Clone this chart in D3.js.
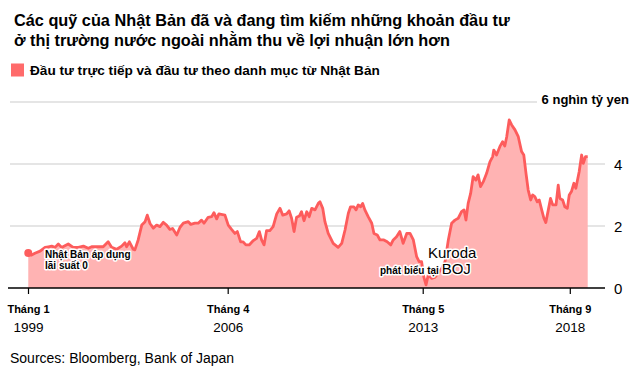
<!DOCTYPE html>
<html>
<head>
<meta charset="utf-8">
<script src="https://cdnjs.cloudflare.com/ajax/libs/d3/7.8.5/d3.min.js"></script>
<style>
  body { margin: 0; background: #fff; }
  svg { display: block; font-family: "Liberation Sans", Arial, sans-serif; }
</style>
</head>
<body>
<svg id="chart" width="640" height="368"></svg>
<script>
// ---------- data ---------- //

const years = [
  1999.01,1999.13,1999.25,1999.44,1999.62,1999.74,1999.86,1999.98,2000.10,2000.22,
  2000.46,2000.64,2000.83,2001.01,2001.19,2001.31,2001.47,2001.73,2001.91,2002.04,
  2002.22,2002.40,2002.52,2002.58,2002.68,2002.82,2002.88,2003.00,2003.13,2003.25,
  2003.33,2003.43,2003.55,2003.67,2003.79,2003.91,2004.03,2004.15,2004.25,2004.40,
  2004.52,2004.64,2004.82,2004.91,2005.06,2005.18,2005.30,2005.39,2005.54,2005.67,
  2005.75,2005.85,2005.93,2006.15,2006.27,2006.39,2006.51,2006.60,2006.72,2006.81,
  2006.91,2007.03,2007.18,2007.30,2007.40,2007.48,2007.57,2007.66,2007.78,2007.90,
  2008.03,2008.15,2008.25,2008.39,2008.48,2008.57,2008.66,2008.75,2008.85,2008.93,
  2009.02,2009.12,2009.21,2009.30,2009.42,2009.54,2009.60,2009.70,2009.78,2009.90,
  2010.08,2010.26,2010.39,2010.51,2010.63,2010.71,2010.83,2010.91,2010.99,2011.08,
  2011.15,2011.23,2011.35,2011.48,2011.56,2011.68,2011.78,2011.92,2012.04,2012.17,
  2012.26,2012.38,2012.50,2012.62,2012.75,2012.87,2012.99,2013.11,2013.20,2013.29,
  2013.37,2013.45,2013.53,2013.65,2013.77,2013.89,2014.02,2014.14,2014.26,2014.38,
  2014.50,2014.62,2014.74,2014.83,2014.90,2014.98,2015.07,2015.16,2015.26,2015.34,
  2015.43,2015.53,2015.65,2015.77,2015.87,2015.91,2016.01,2016.13,2016.23,2016.31,
  2016.38,2016.47,2016.56,2016.68,2016.80,2016.92,2017.00,2017.08,2017.16,2017.25,
  2017.32,2017.40,2017.49,2017.56,2017.65,2017.73,2017.80,2017.89,2017.97,2018.05,
  2018.17,2018.25,2018.31,2018.41,2018.49,2018.58,2018.65,2018.73,2018.82,2018.89,
  2019.01,2019.10,2019.16,2019.24,2019.32
];

// nghìn tỷ yen
const investment = [
  1.13,1.06,1.12,1.19,1.31,1.33,1.35,1.31,1.42,1.31,
  1.42,1.31,1.31,1.35,1.28,1.33,1.33,1.33,1.49,1.31,
  1.25,1.35,1.46,1.33,1.49,1.25,1.23,1.55,2.03,2.14,
  2.35,2.08,1.93,2.03,1.98,2.12,2.03,1.89,1.92,1.71,
  1.96,2.09,2.14,2.05,2.09,2.09,2.19,2.09,2.28,2.30,
  2.43,2.23,2.39,2.35,2.03,1.89,1.76,1.82,1.49,1.49,
  1.39,1.39,1.53,1.60,1.82,1.55,1.39,1.85,1.85,1.98,
  2.39,2.57,2.35,2.39,2.49,2.25,1.82,2.28,2.32,2.46,
  2.17,2.46,2.30,2.57,2.52,2.73,2.78,2.57,2.14,1.76,
  1.44,1.31,1.44,1.87,2.41,2.62,2.62,2.52,2.68,2.62,
  2.73,2.52,2.30,2.09,1.76,1.71,1.55,1.55,1.49,1.39,
  1.55,1.65,1.82,1.44,1.76,1.76,1.55,1.01,0.85,0.85,
  0.36,0.10,0.42,0.31,0.34,0.47,0.63,0.85,1.55,2.09,
  2.19,2.25,2.46,2.52,2.19,2.73,3.05,3.59,3.48,3.65,
  3.27,3.43,3.70,4.07,4.24,4.45,4.29,4.56,4.72,4.58,
  4.88,5.42,5.26,5.10,4.88,4.40,4.29,3.70,3.16,2.84,
  3.00,2.95,2.78,2.84,2.52,2.25,2.11,2.52,2.89,2.68,
  2.68,3.32,2.89,2.84,2.62,2.57,3.00,3.11,3.38,3.22,
  3.75,4.29,4.02,4.24,4.24
];

const tickYears = [1999.0, 2006.25, 2013.33, 2018.67];
const tickMonths = ["Tháng 1", "Tháng 4", "Tháng 5", "Tháng 9"];
const tickYearLabels = ["1999", "2006", "2013", "2018"];
const yTicks = [0, 2, 4, 6];

const titleLines = [
  "Các quỹ của Nhật Bản đã và đang tìm kiếm những khoản đầu tư",
  "ở thị trường nước ngoài nhằm thu về lợi nhuận lớn hơn"
];
const legendLabel = "Đầu tư trực tiếp và đầu tư theo danh mục từ Nhật Bản";
const unitLabel = "6 nghìn tỷ yen";
const source = "Sources: Bloomberg, Bank of Japan";

const data = years.map((y, i) => ({ year: y, value: investment[i] }));

// ---------- chart ---------- //

const lineColor = "#fd5c5c";
const areaColor = "#ffb3b3";

const svg = d3.select("#chart");

const x = d3.scaleLinear()
    .domain([1999, d3.max(years)])
    .range([28, 587.7]);

const y = d3.scaleLinear()
    .domain([0, 6])
    .range([288, 102]);

// title
svg.append("g")
    .selectAll("text")
    .data(titleLines)
    .join("text")
    .attr("x", 14)
    .attr("y", (d, i) => 26 + i * 19.5)
    .attr("font-size", "16.3px")
    .attr("font-weight", "bold")
    .attr("fill", "#000")
    .text(d => d);

// legend
svg.append("rect")
    .attr("x", 11)
    .attr("y", 63.5)
    .attr("width", 13)
    .attr("height", 13)
    .attr("fill", "#ff6b6b");

svg.append("text")
    .attr("x", 30)
    .attr("y", 75)
    .attr("font-size", "13.6px")
    .attr("font-weight", "bold")
    .text(legendLabel);

// gridlines
svg.append("g")
    .selectAll("line")
    .data(yTicks.filter(d => d > 0))
    .join("line")
    .attr("x1", 10)
    .attr("x2", d => d === 6 ? 537 : 605)
    .attr("y1", d => y(d))
    .attr("y2", d => y(d))
    .attr("stroke", "#dcdcdc")
    .attr("stroke-width", 1.5);

// right axis labels
svg.append("g")
    .selectAll("text")
    .data(yTicks.filter(d => d < 6))
    .join("text")
    .attr("x", 614)
    .attr("y", d => y(d) + 5.5)
    .attr("font-size", "15px")
    .text(d => d);

svg.append("text")
    .attr("x", 629)
    .attr("y", y(6) + 2)
    .attr("text-anchor", "end")
    .attr("font-size", "13px")
    .attr("font-weight", "bold")
    .text(unitLabel);

// area + line
const area = d3.area()
    .x(d => x(d.year))
    .y0(y(0))
    .y1(d => y(d.value));

const line = d3.line()
    .x(d => x(d.year))
    .y(d => y(d.value));

svg.append("path")
    .datum(data)
    .attr("d", area)
    .attr("fill", areaColor);

svg.append("path")
    .datum(data)
    .attr("d", line)
    .attr("fill", "none")
    .attr("stroke", lineColor)
    .attr("stroke-width", 2.8)
    .attr("stroke-linejoin", "round");

svg.append("circle")
    .attr("cx", x(data[0].year))
    .attr("cy", y(data[0].value))
    .attr("r", 4)
    .attr("fill", lineColor);

// bottom axis
const xAxis = d3.axisBottom(x)
    .tickValues(tickYears)
    .tickSize(6)
    .tickFormat("");

const axisG = svg.append("g")
    .attr("transform", "translate(0," + y(0) + ")")
    .call(xAxis);

axisG.select(".domain")
    .attr("d", "M8,0H605")
    .attr("stroke", "#000")
    .attr("stroke-width", 1.5);

axisG.selectAll(".tick line")
    .attr("stroke", "#000")
    .attr("stroke-width", 1.2);

axisG.selectAll(".tick")
    .append("text")
    .attr("y", 25)
    .attr("fill", "#000")
    .attr("font-size", "11px")
    .attr("font-weight", "bold")
    .attr("font-family", "Liberation Sans, Arial, sans-serif")
    .attr("text-anchor", "middle")
    .text((d, i) => tickMonths[i]);

axisG.selectAll(".tick")
    .append("text")
    .attr("y", 44)
    .attr("fill", "#000")
    .attr("font-size", "13.5px")
    .attr("font-family", "Liberation Sans, Arial, sans-serif")
    .attr("text-anchor", "middle")
    .text((d, i) => tickYearLabels[i]);

// annotations with white halo
function halo(sel){
    sel.attr("stroke", "#fff")
        .attr("stroke-width", 3)
        .attr("stroke-linejoin", "round")
        .attr("paint-order", "stroke")
        .attr("fill", "#000");
}

svg.append("text")
    .attr("x", 45)
    .attr("y", 258)
    .attr("font-size", "10px")
    .attr("font-weight", "bold")
    .call(halo)
    .text("Nhật Bản áp dụng");

svg.append("text")
    .attr("x", 45)
    .attr("y", 269)
    .attr("font-size", "10px")
    .attr("font-weight", "bold")
    .call(halo)
    .text("lãi suất 0");

svg.append("text")
    .attr("x", 428)
    .attr("y", 258)
    .attr("font-size", "15px")
    .call(halo)
    .text("Kuroda");

const boj = svg.append("text")
    .attr("x", 380)
    .attr("y", 274)
    .call(halo);

boj.append("tspan")
    .attr("font-size", "10px")
    .attr("font-weight", "bold")
    .text("phát biểu tại ");

boj.append("tspan")
    .attr("font-size", "15px")
    .text("BOJ");

// source
svg.append("text")
    .attr("x", 10)
    .attr("y", 363)
    .attr("font-size", "14px")
    .attr("fill", "#000")
    .text(source);
</script>
</body>
</html>
